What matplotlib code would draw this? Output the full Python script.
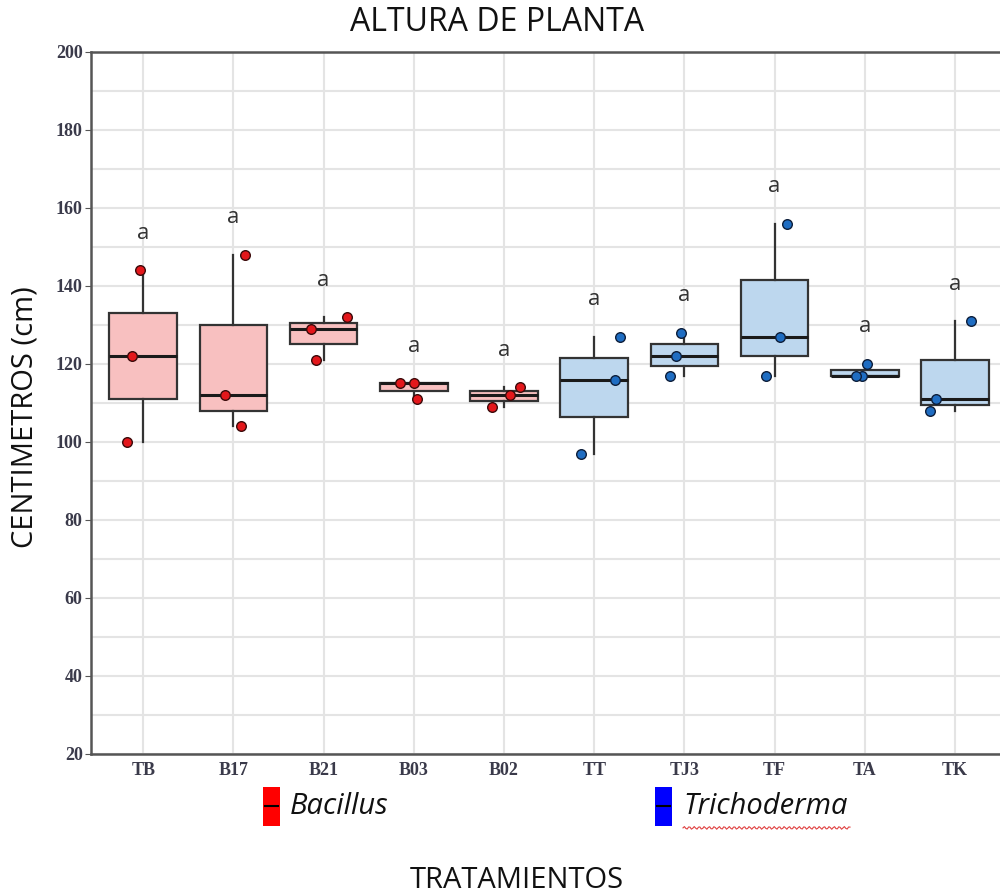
import numpy as np
import matplotlib
matplotlib.use("Agg")
import matplotlib.pyplot as plt
from matplotlib.patches import Rectangle
from matplotlib.lines import Line2D

# ---- data ----
categories = ["TB", "B17", "B21", "B03", "B02", "TT", "TJ3", "TF", "TA", "TK"]
groups = ["Bacillus"] * 5 + ["Trichoderma"] * 5
values = {
    "TB":  [144, 122, 100],
    "B17": [148, 112, 104],
    "B21": [132, 129, 121],
    "B03": [115, 115, 111],
    "B02": [109, 112, 114],
    "TT":  [97, 116, 127],
    "TJ3": [128, 122, 117],
    "TF":  [156, 127, 117],
    "TA":  [120, 117, 117],
    "TK":  [131, 111, 108],
}
# horizontal jitter of the points (category units)
jitter = {
    "TB":  [-0.04, -0.12, -0.18],
    "B17": [0.13, -0.09, 0.08],
    "B21": [0.26, -0.14, -0.08],
    "B03": [-0.15, 0.00, 0.03],
    "B02": [-0.13, 0.07, 0.18],
    "TT":  [-0.15, 0.23, 0.29],
    "TJ3": [-0.04, -0.09, -0.16],
    "TF":  [0.14, 0.06, -0.09],
    "TA":  [0.03, -0.03, -0.10],
    "TK":  [0.18, -0.21, -0.28],
}
letters = ["a"] * 10
yticks = list(range(20, 201, 20))

box_fill = {"Bacillus": "#F8C0C0", "Trichoderma": "#BDD7EE"}
pt_fill = {"Bacillus": "#E3171B", "Trichoderma": "#1F6DC2"}
pt_edge = {"Bacillus": "#3A0A0A", "Trichoderma": "#0D1E3A"}
legend_col = {"Bacillus": "#FF0000", "Trichoderma": "#0000FF"}

fig = plt.figure(figsize=(10, 8.96), dpi=100)
ax = fig.add_axes([0.091, 0.1585, 0.909, 0.7835])

pos = np.arange(len(categories))
bp = ax.boxplot([values[c] for c in categories], positions=pos, widths=0.75,
                patch_artist=True, showcaps=False, showfliers=False,
                whis=1.5, zorder=3)
for i, c in enumerate(categories):
    g = groups[i]
    bp["boxes"][i].set(facecolor=box_fill[g], edgecolor="#333333", linewidth=1.6)
    bp["medians"][i].set(color="#1a1a1a", linewidth=2.2)
for w in bp["whiskers"]:
    w.set(color="#333333", linewidth=1.6)

for i, c in enumerate(categories):
    g = groups[i]
    xs = pos[i] + np.array(jitter[c])
    ax.scatter(xs, values[c], s=48, facecolor=pt_fill[g], edgecolor=pt_edge[g],
               linewidth=1.0, zorder=5)
    ax.text(pos[i], max(values[c]) + 9.5, letters[i], ha="center", va="center",
            fontsize=16, color="#333333", family="Open Sans", zorder=6)

ax.set_xlim(-0.58, 9.5)
ax.set_ylim(20, 200)
ax.set_yticks(yticks)
ax.set_yticks(range(30, 200, 20), minor=True)
ax.set_xticks(pos)
ax.set_xticklabels(categories)
ax.grid(True, which="both", axis="y", color="#e4e4e4", linewidth=1.5, zorder=0)
ax.grid(True, which="major", axis="x", color="#e4e4e4", linewidth=1.5, zorder=0)
ax.set_axisbelow(True)
for lab in ax.get_xticklabels() + ax.get_yticklabels():
    lab.set_family("Liberation Serif")
    lab.set_fontweight("bold")
    lab.set_fontsize(13)
    lab.set_color("#3a3a4a")
ax.tick_params(axis="y", which="major", length=4, color="#555555", pad=2)
ax.tick_params(axis="y", which="minor", length=0)
ax.tick_params(axis="x", length=0, pad=6)
for s in ["left", "bottom", "top"]:
    ax.spines[s].set_color("#555555")
    ax.spines[s].set_linewidth(1.8)
ax.spines["right"].set_visible(False)

fig.text(0.497, 0.975, "ALTURA DE PLANTA", ha="center", va="center",
         fontsize=23, family="Open Sans", color="#111111")
fig.text(0.025, 0.535, "CENTIMETROS (cm)", ha="center", va="center", rotation=90,
         fontsize=21, family="Open Sans", color="#111111")
fig.text(0.517, 0.017, "TRATAMIENTOS", ha="center", va="center",
         fontsize=21, family="Open Sans", color="#111111")

# legend
for (gx, tx, g) in [(0.263, 0.290, "Bacillus"), (0.655, 0.683, "Trichoderma")]:
    fig.patches.append(Rectangle((gx, 0.078), 0.017, 0.044, transform=fig.transFigure,
                                 facecolor=legend_col[g], edgecolor="none"))
    fig.lines.append(Line2D([gx + 0.002, gx + 0.015], [0.100, 0.100],
                            transform=fig.transFigure, color="black", linewidth=1.5))
    fig.text(tx, 0.100, g, ha="left", va="center", fontsize=21, style="italic",
             family="Open Sans", color="#111111")

# spell-check squiggle under "Trichoderma"
sx = np.linspace(0.683, 0.850, 120)
sy = 0.076 + 0.0015 * np.sin((sx - 0.683) * 2 * np.pi / 0.005)
fig.lines.append(Line2D(sx, sy, transform=fig.transFigure, color="#E04040", linewidth=0.8))

fig.savefig("out.png", dpi=100)
